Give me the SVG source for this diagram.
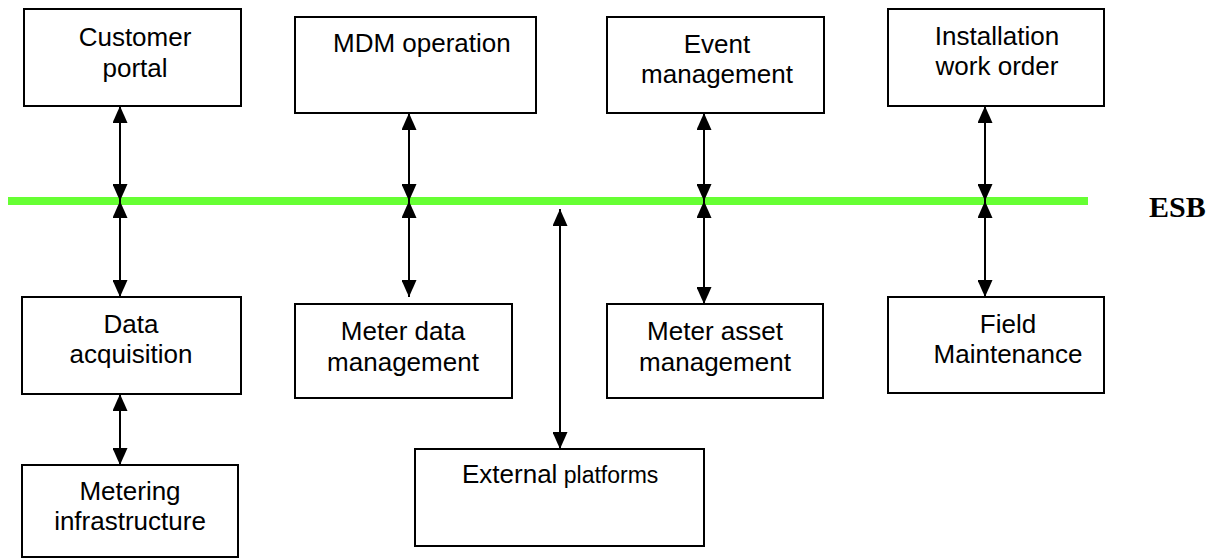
<svg xmlns="http://www.w3.org/2000/svg" width="1222" height="560" viewBox="0 0 1222 560">
<style>
.box{fill:#fff;stroke:#000;stroke-width:2}
.t{font-family:"Liberation Sans",Arial,sans-serif;font-size:26px;fill:#000;text-anchor:middle}
.c{stroke:#000;stroke-width:2;fill:none;marker-start:url(#ah);marker-end:url(#ah)}
.esb{font-family:"Liberation Serif","Times New Roman",serif;font-size:30px;font-weight:bold;fill:#000}
</style>
<defs>
<marker id="ah" viewBox="0 0 17 15" refX="17" refY="7.5" markerWidth="17" markerHeight="15" markerUnits="userSpaceOnUse" orient="auto-start-reverse">
<path d="M0,0 L17,7.5 L0,15 z" fill="#000"/>
</marker>
</defs>
<rect width="1222" height="560" fill="#fff"/>
<g id="esb-bus">
<line x1="8" y1="201" x2="1088" y2="201" stroke="#66FF33" stroke-width="8"/>
<text class="esb" x="1149" y="217">ESB</text>
</g>
<g id="customer-portal">
<rect class="box" x="24" y="9" width="217" height="97"/>
<text class="t" x="135" y="46">Customer</text>
<text class="t" x="135" y="77">portal</text>
</g>
<g id="mdm-operation">
<rect class="box" x="295" y="17" width="241" height="96"/>
<text class="t" x="333" y="52" style="text-anchor:start">MDM operation</text>
</g>
<g id="event-management">
<rect class="box" x="607" y="17" width="217" height="96"/>
<text class="t" x="717" y="53">Event</text>
<text class="t" x="717" y="83">management</text>
</g>
<g id="installation-work-order">
<rect class="box" x="888" y="9" width="216" height="97"/>
<text class="t" x="997" y="45">Installation</text>
<text class="t" x="997" y="75">work order</text>
</g>
<g id="data-acquisition">
<rect class="box" x="22" y="297" width="219" height="97"/>
<text class="t" x="131" y="333">Data</text>
<text class="t" x="131" y="363">acquisition</text>
</g>
<g id="meter-data-management">
<rect class="box" x="295" y="304" width="217" height="94"/>
<text class="t" x="403" y="340">Meter data</text>
<text class="t" x="403" y="371">management</text>
</g>
<g id="meter-asset-management">
<rect class="box" x="607" y="304" width="216" height="94"/>
<text class="t" x="715" y="340">Meter asset</text>
<text class="t" x="715" y="371">management</text>
</g>
<g id="field-maintenance">
<rect class="box" x="888" y="297" width="216" height="96"/>
<text class="t" x="1008" y="333">Field</text>
<text class="t" x="1008" y="363">Maintenance</text>
</g>
<g id="metering-infrastructure">
<rect class="box" x="22" y="465" width="216" height="92"/>
<text class="t" x="130" y="500">Metering</text>
<text class="t" x="130" y="530">infrastructure</text>
</g>
<g id="external-platforms">
<rect class="box" x="415" y="449" width="289" height="97"/>
<text class="t" x="462" y="483" style="text-anchor:start">External<tspan style="font-size:23px"> platforms</tspan></text>
</g>
<g id="connectors">
<line class="c" x1="120" y1="106" x2="120" y2="201"/>
<line class="c" x1="120" y1="201" x2="120" y2="297"/>
<line class="c" x1="409" y1="113" x2="409" y2="201"/>
<line class="c" x1="409" y1="201" x2="409" y2="297"/>
<line class="c" x1="704" y1="113" x2="704" y2="201"/>
<line class="c" x1="704" y1="201" x2="704" y2="304"/>
<line class="c" x1="985" y1="106" x2="985" y2="201"/>
<line class="c" x1="985" y1="201" x2="985" y2="297"/>
<line class="c" x1="560" y1="209" x2="560" y2="449"/>
<line class="c" x1="120" y1="394" x2="120" y2="465"/>
</g>
</svg>
